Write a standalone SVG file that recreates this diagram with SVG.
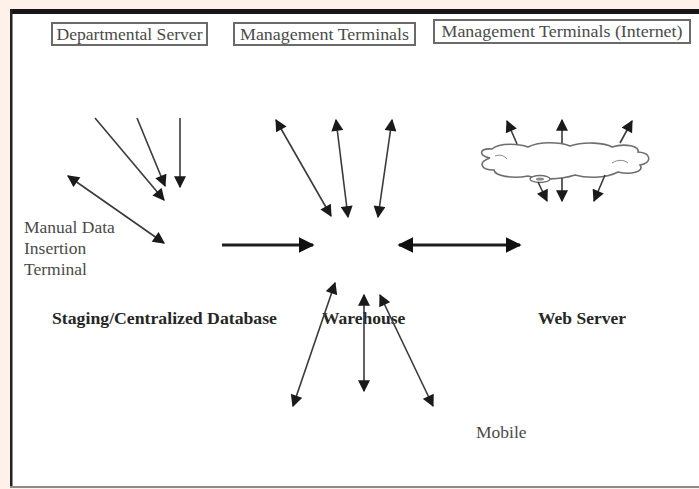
<svg xmlns="http://www.w3.org/2000/svg" width="699" height="489" viewBox="0 0 699 489">
  <defs>
    <style>
      .box { fill: #ffffff; stroke: #6a6a6a; stroke-width: 2; }
      .lbl { font-family: "Liberation Serif", "Times New Roman", serif; font-size: 17.5px; fill: #4a4a4a; }
      .bold { font-family: "Liberation Serif", "Times New Roman", serif; font-size: 17.5px; font-weight: bold; fill: #262626; }
      .ln { stroke: #3a3a3a; stroke-width: 1.6; fill: none; }
      .thick { stroke: #1e1e1e; stroke-width: 3.2; fill: none; }
      .cloud { fill: #ffffff; stroke: #6e6e6e; stroke-width: 1.6; }
    </style>
    <marker id="ah" viewBox="0 0 10 10" refX="9" refY="5" markerUnits="userSpaceOnUse" markerWidth="13" markerHeight="12" orient="auto-start-reverse">
      <path d="M0,0 L10,5 L0,10 z" fill="#1a1a1a"/>
    </marker>
    <marker id="ahb" viewBox="0 0 10 10" refX="9" refY="5" markerUnits="userSpaceOnUse" markerWidth="16" markerHeight="16" orient="auto-start-reverse">
      <path d="M0,0 L10,5 L0,10 z" fill="#111111"/>
    </marker>
  </defs>

  <!-- page and frame -->
  <rect x="0" y="0" width="699" height="489" fill="#fdf1ea"/>
  <rect x="12" y="14" width="687" height="472" fill="#ffffff"/>
  <rect x="10" y="9" width="689" height="5" fill="#161616"/>
  <rect x="10" y="9" width="2.5" height="479" fill="#222222"/>
  <rect x="10" y="486" width="689" height="2" fill="#8a8a8a"/>

  <!-- header boxes -->
  <g id="departmental-server">
    <rect class="box" x="52" y="23" width="155" height="22"/>
    <text class="lbl" x="129.5" y="40" text-anchor="middle" textLength="146" lengthAdjust="spacingAndGlyphs">Departmental Server</text>
  </g>
  <g id="management-terminals">
    <rect class="box" x="234" y="23" width="181" height="22"/>
    <text class="lbl" x="324.5" y="40" text-anchor="middle" textLength="169" lengthAdjust="spacingAndGlyphs">Management Terminals</text>
  </g>
  <g id="management-terminals-internet">
    <rect class="box" x="434" y="20" width="256" height="23"/>
    <text class="lbl" x="562" y="37" text-anchor="middle" textLength="241" lengthAdjust="spacingAndGlyphs">Management Terminals (Internet)</text>
  </g>

  <!-- internet cloud -->
  <g id="internet-cloud">
    <path class="cloud" d="M490,158 C478,156 479,148 492,149 C500,142 520,144 528,147 C540,141 560,142 570,146 C585,141 605,143 612,147 C625,143 640,146 638,152 C652,153 652,163 640,165 C645,172 630,175 618,172 C605,179 585,178 575,175 C560,180 540,180 528,176 C512,179 495,176 494,170 C480,170 478,162 490,158 Z"/>
    <path d="M495,156 C500,154 505,156 507,159" fill="none" stroke="#8a8a8a" stroke-width="1"/>
    <path d="M612,163 C618,159 625,160 628,163" fill="none" stroke="#8a8a8a" stroke-width="1"/>
    <ellipse cx="540" cy="179" rx="10" ry="3.5" fill="#ffffff" stroke="#6e6e6e" stroke-width="1.3"/>
    <ellipse cx="540" cy="179" rx="4" ry="1.5" fill="#8a8a8a"/>
  </g>

  <!-- labels -->
  <g id="manual-data-insertion-terminal">
    <text class="lbl" x="24" y="233">Manual Data</text>
    <text class="lbl" x="24" y="254">Insertion</text>
    <text class="lbl" x="24" y="275">Terminal</text>
  </g>
  <g id="staging-database">
    <text class="bold" x="52" y="324" textLength="225" lengthAdjust="spacingAndGlyphs">Staging/Centralized Database</text>
  </g>
  <g id="warehouse">
    <text class="bold" x="322" y="324">Warehouse</text>
  </g>
  <g id="web-server">
    <text class="bold" x="538" y="324">Web Server</text>
  </g>
  <g id="mobile">
    <text class="lbl" x="476" y="438">Mobile</text>
  </g>

  <!-- connectors -->
  <g id="connectors">
    <!-- into the staging database -->
    <line class="ln" x1="95" y1="118" x2="164" y2="200" marker-end="url(#ah)"/>
    <line class="ln" x1="137" y1="118" x2="165" y2="186" marker-end="url(#ah)"/>
    <line class="ln" x1="180" y1="118" x2="180" y2="187" marker-end="url(#ah)"/>
    <line class="ln" x1="68" y1="176" x2="164" y2="243" marker-start="url(#ah)" marker-end="url(#ah)"/>
    <!-- staging to warehouse -->
    <line class="thick" x1="222" y1="245" x2="313" y2="245" marker-end="url(#ahb)"/>
    <!-- warehouse to management terminals -->
    <line class="ln" x1="276" y1="120" x2="331" y2="216" marker-start="url(#ah)" marker-end="url(#ah)"/>
    <line class="ln" x1="336" y1="120" x2="348" y2="217" marker-start="url(#ah)" marker-end="url(#ah)"/>
    <line class="ln" x1="392" y1="120" x2="378" y2="217" marker-start="url(#ah)" marker-end="url(#ah)"/>
    <!-- warehouse to web server -->
    <line class="thick" x1="399" y1="245" x2="520" y2="245" marker-start="url(#ahb)" marker-end="url(#ahb)"/>
    <!-- warehouse to mobile -->
    <line class="ln" x1="335" y1="283" x2="293" y2="406" marker-start="url(#ah)" marker-end="url(#ah)"/>
    <line class="ln" x1="364" y1="295" x2="364" y2="391" marker-start="url(#ah)" marker-end="url(#ah)"/>
    <line class="ln" x1="380" y1="295" x2="433" y2="406" marker-start="url(#ah)" marker-end="url(#ah)"/>
    <!-- cloud to internet terminals -->
    <line class="ln" x1="517" y1="144" x2="507" y2="121" marker-end="url(#ah)"/>
    <line class="ln" x1="562" y1="143" x2="562" y2="120" marker-end="url(#ah)"/>
    <line class="ln" x1="620" y1="143" x2="632" y2="121" marker-end="url(#ah)"/>
    <line class="ln" x1="538" y1="182" x2="547" y2="201" marker-end="url(#ah)"/>
    <line class="ln" x1="562" y1="178" x2="562" y2="201" marker-end="url(#ah)"/>
    <line class="ln" x1="605" y1="175" x2="594" y2="201" marker-end="url(#ah)"/>
  </g>
</svg>
